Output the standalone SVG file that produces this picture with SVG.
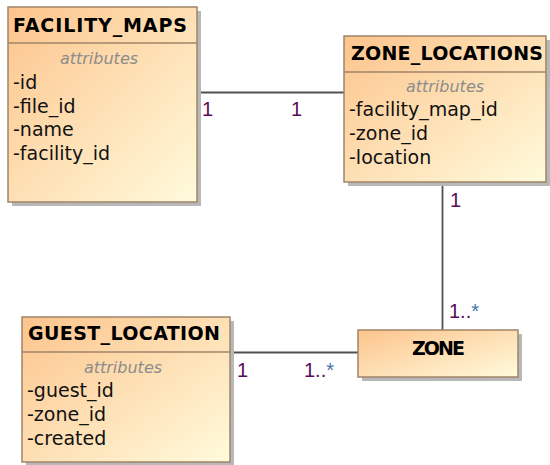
<svg xmlns="http://www.w3.org/2000/svg" width="550" height="465" viewBox="0 0 550 465">
<defs>
<linearGradient id="g" x1="0" y1="0" x2="1" y2="1">
<stop offset="0" stop-color="#fcc48c"/>
<stop offset="0.55" stop-color="#fee2b8"/>
<stop offset="1" stop-color="#fffbdc"/>
</linearGradient>
</defs>
<style>
.sh{fill:#b8b8b8}
.bx{fill:url(#g);stroke:#a08468;stroke-width:1.5}
.dv{stroke:#a08468;stroke-width:1.5}
.t{font-family:"DejaVu Sans",Verdana,sans-serif;font-weight:bold;font-size:19px;fill:#000}
.at{font-family:"DejaVu Sans",Verdana,sans-serif;font-style:italic;font-size:16px;fill:#8c8c8c;text-anchor:middle}
.a{font-family:"DejaVu Sans",Verdana,sans-serif;font-size:19px;fill:#111}
.l{font-family:"Liberation Sans",Arial,sans-serif;font-size:20px;fill:#5a0a5a}
.ln{stroke:#505050;stroke-width:1.8;fill:none}
</style>
<g id="connectors">
<line class="ln" x1="197" y1="92.5" x2="344" y2="92.5"/>
<line class="ln" x1="442.5" y1="182" x2="442.5" y2="330"/>
<line class="ln" x1="230" y1="352.5" x2="358" y2="352.5"/>
<text class="l" x="202" y="116">1</text>
<text class="l" x="291" y="116">1</text>
<text class="l" x="450" y="207">1</text>
<text class="l" x="449" y="318">1..<tspan fill="#4a72a8">*</tspan></text>
<text class="l" x="237" y="377">1</text>
<text class="l" x="304" y="377">1..<tspan fill="#4a72a8">*</tspan></text>
</g>
<g id="facility_maps">
<rect class="sh" x="12" y="11" width="189" height="195"/>
<rect class="bx" x="8" y="7" width="189" height="195"/>
<line class="dv" x1="8" y1="43" x2="197" y2="43"/>
<text class="t" x="13" y="32" textLength="174">FACILITY_MAPS</text>
<text class="at" x="99" y="64">attributes</text>
<text class="a" x="13" y="89">-id</text>
<text class="a" x="13" y="112.5">-file_id</text>
<text class="a" x="13" y="136">-name</text>
<text class="a" x="13" y="159.5">-facility_id</text>
</g>
<g id="zone_locations">
<rect class="sh" x="348" y="40" width="202" height="146"/>
<rect class="bx" x="344" y="36" width="202" height="146"/>
<line class="dv" x1="344" y1="72" x2="546" y2="72"/>
<text class="t" x="351" y="60" textLength="192">ZONE_LOCATIONS</text>
<text class="at" x="445" y="92">attributes</text>
<text class="a" x="349" y="116">-facility_map_id</text>
<text class="a" x="349" y="140">-zone_id</text>
<text class="a" x="349" y="164">-location</text>
</g>
<g id="guest_location">
<rect class="sh" x="26" y="321" width="208" height="145"/>
<rect class="bx" x="22" y="317" width="208" height="145"/>
<line class="dv" x1="22" y1="352" x2="230" y2="352"/>
<text class="t" x="28" y="340" textLength="192">GUEST_LOCATION</text>
<text class="at" x="123" y="373">attributes</text>
<text class="a" x="27" y="397">-guest_id</text>
<text class="a" x="27" y="421">-zone_id</text>
<text class="a" x="27" y="445">-created</text>
</g>
<g id="zone">
<rect class="sh" x="362" y="334" width="160" height="47"/>
<rect class="bx" x="358" y="330" width="160" height="47"/>
<text class="t" x="412" y="355" textLength="53">ZONE</text>
</g>
</svg>
